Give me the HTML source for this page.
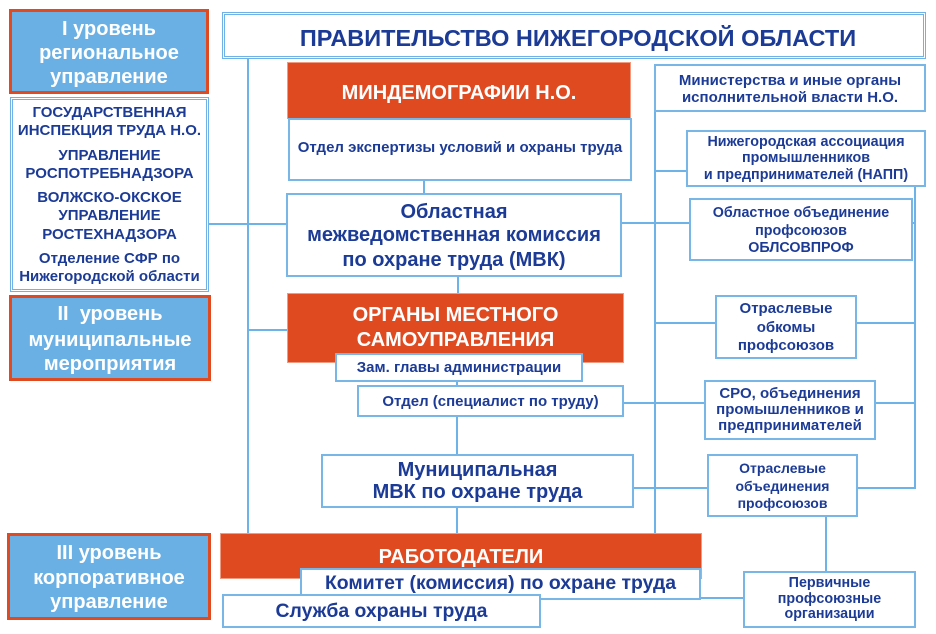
<!DOCTYPE html>
<html><head><meta charset="utf-8">
<style>
*{margin:0;padding:0;box-sizing:border-box}
html,body{width:936px;height:634px;background:#fff;overflow:hidden}
body{position:relative;font-family:"Liberation Sans",Arial,sans-serif;font-weight:bold}
.b{position:absolute;background:#fff;border:2px solid #78b6e8}
.d{border:3px double #6fb2e6}
.r{position:absolute;background:#e04a20;border:1px solid #f09a80}
.lv{position:absolute;background:#6ab0e4;border:3px solid #e04a20}
.t{position:absolute;text-align:center;white-space:nowrap;height:20px;line-height:20px;color:#1c3b96;font-size:15px}
.w{color:#fff}
.big{font-size:20px}
svg{position:absolute;left:0;top:0}
</style></head><body>
<svg width="936" height="634" viewBox="0 0 936 634">
<g stroke="#6db3e8" stroke-width="2" fill="none">
<line x1="248" y1="58" x2="248" y2="534"/>
<line x1="208" y1="224" x2="287" y2="224"/>
<line x1="248" y1="330" x2="288" y2="330"/>
<line x1="424" y1="180" x2="424" y2="194"/>
<line x1="458" y1="276" x2="458" y2="294"/>
<line x1="457" y1="380" x2="457" y2="386"/>
<line x1="457" y1="416" x2="457" y2="455"/>
<line x1="457" y1="507" x2="457" y2="534"/>
<line x1="621" y1="223" x2="690" y2="223"/>
<line x1="655" y1="111" x2="655" y2="534"/>
<line x1="655" y1="171" x2="687" y2="171"/>
<line x1="655" y1="323" x2="716" y2="323"/>
<line x1="856" y1="323" x2="915" y2="323"/>
<line x1="623" y1="403" x2="705" y2="403"/>
<line x1="875" y1="403" x2="915" y2="403"/>
<line x1="633" y1="488" x2="708" y2="488"/>
<line x1="857" y1="488" x2="915" y2="488"/>
<line x1="912" y1="223" x2="915" y2="223"/>
<line x1="915" y1="186" x2="915" y2="489"/>
<line x1="826" y1="516" x2="826" y2="572"/>
<line x1="700" y1="598" x2="744" y2="598"/>
</g></svg>

<!-- Level boxes -->
<div class="lv" style="left:9px;top:9px;width:200px;height:85px"></div>
<div class="t w big" style="left:9px;width:200px;top:19px">I уровень</div>
<div class="t w big" style="left:9px;width:200px;top:43px">региональное</div>
<div class="t w big" style="left:9px;width:200px;top:67px">управление</div>

<div class="b d" style="left:10px;top:97px;width:199px;height:195px"></div>
<div class="t" style="left:10px;width:199px;top:103px">ГОСУДАРСТВЕННАЯ</div>
<div class="t" style="left:10px;width:199px;top:121px">ИНСПЕКЦИЯ ТРУДА Н.О.</div>
<div class="t" style="left:10px;width:199px;top:146px">УПРАВЛЕНИЕ</div>
<div class="t" style="left:10px;width:199px;top:164px">РОСПОТРЕБНАДЗОРА</div>
<div class="t" style="left:10px;width:199px;top:188px">ВОЛЖСКО-ОКСКОЕ</div>
<div class="t" style="left:10px;width:199px;top:206px">УПРАВЛЕНИЕ</div>
<div class="t" style="left:10px;width:199px;top:225px">РОСТЕХНАДЗОРА</div>
<div class="t" style="left:10px;width:199px;top:249px">Отделение СФР по</div>
<div class="t" style="left:10px;width:199px;top:267px">Нижегородской области</div>

<div class="lv" style="left:9px;top:295px;width:202px;height:86px"></div>
<div class="t w big" style="left:9px;width:202px;top:304px">II&nbsp; уровень</div>
<div class="t w big" style="left:9px;width:202px;top:330px">муниципальные</div>
<div class="t w big" style="left:9px;width:202px;top:354px">мероприятия</div>

<div class="lv" style="left:7px;top:533px;width:204px;height:87px"></div>
<div class="t w big" style="left:7px;width:204px;top:543px">III уровень</div>
<div class="t w big" style="left:7px;width:204px;top:568px">корпоративное</div>
<div class="t w big" style="left:7px;width:204px;top:592px">управление</div>

<!-- Title -->
<div class="b d" style="left:222px;top:12px;width:704px;height:47px"></div>
<div class="t" style="left:222px;width:712px;top:26px;height:24px;line-height:24px;font-size:23.5px">ПРАВИТЕЛЬСТВО НИЖЕГОРОДСКОЙ ОБЛАСТИ</div>

<!-- Center column -->
<div class="r" style="left:287px;top:62px;width:344px;height:57px"></div>
<div class="t w big" style="left:287px;width:344px;top:83px">МИНДЕМОГРАФИИ Н.О.</div>

<div class="b" style="left:288px;top:118px;width:344px;height:63px"></div>
<div class="t" style="left:288px;width:344px;top:138px">Отдел экспертизы условий и охраны труда</div>

<div class="b" style="left:286px;top:193px;width:336px;height:84px"></div>
<div class="t big" style="left:286px;width:336px;top:202px">Областная</div>
<div class="t big" style="left:286px;width:336px;top:225px">межведомственная комиссия</div>
<div class="t big" style="left:286px;width:336px;top:250px">по охране труда (МВК)</div>

<div class="r" style="left:287px;top:293px;width:337px;height:70px"></div>
<div class="t w big" style="left:287px;width:337px;top:305px">ОРГАНЫ МЕСТНОГО</div>
<div class="t w big" style="left:287px;width:337px;top:330px">САМОУПРАВЛЕНИЯ</div>

<div class="b" style="left:335px;top:353px;width:248px;height:29px"></div>
<div class="t" style="left:335px;width:248px;top:358px">Зам. главы администрации</div>

<div class="b" style="left:357px;top:385px;width:267px;height:32px"></div>
<div class="t" style="left:357px;width:267px;top:392px">Отдел (специалист по труду)</div>

<div class="b" style="left:321px;top:454px;width:313px;height:54px"></div>
<div class="t big" style="left:321px;width:313px;top:460px">Муниципальная</div>
<div class="t big" style="left:321px;width:313px;top:482px">МВК по охране труда</div>

<!-- Right column -->
<div class="b" style="left:654px;top:64px;width:272px;height:48px"></div>
<div class="t" style="left:654px;width:272px;top:71px">Министерства и иные органы</div>
<div class="t" style="left:654px;width:272px;top:88px">исполнительной власти Н.О.</div>

<div class="b" style="left:686px;top:130px;width:240px;height:57px"></div>
<div class="t" style="left:686px;width:240px;top:132px;font-size:14.3px">Нижегородская ассоциация</div>
<div class="t" style="left:686px;width:240px;top:148px;font-size:14.3px">промышленников</div>
<div class="t" style="left:686px;width:240px;top:165px;font-size:14.3px">и предпринимателей (НАПП)</div>

<div class="b" style="left:689px;top:198px;width:224px;height:63px"></div>
<div class="t" style="left:689px;width:224px;top:203px;font-size:14.3px">Областное объединение</div>
<div class="t" style="left:689px;width:224px;top:221px;font-size:14.3px">профсоюзов</div>
<div class="t" style="left:689px;width:224px;top:238px;font-size:14.3px">ОБЛСОВПРОФ</div>

<div class="b" style="left:715px;top:295px;width:142px;height:64px"></div>
<div class="t" style="left:715px;width:142px;top:299px">Отраслевые</div>
<div class="t" style="left:715px;width:142px;top:318px">обкомы</div>
<div class="t" style="left:715px;width:142px;top:336px">профсоюзов</div>

<div class="b" style="left:704px;top:380px;width:172px;height:60px"></div>
<div class="t" style="left:704px;width:172px;top:384px">СРО, объединения</div>
<div class="t" style="left:704px;width:172px;top:400px">промышленников и</div>
<div class="t" style="left:704px;width:172px;top:416px">предпринимателей</div>

<div class="b" style="left:707px;top:454px;width:151px;height:63px"></div>
<div class="t" style="left:707px;width:151px;top:458px;font-size:14px">Отраслевые</div>
<div class="t" style="left:707px;width:151px;top:476px;font-size:14px">объединения</div>
<div class="t" style="left:707px;width:151px;top:493px;font-size:14px">профсоюзов</div>

<!-- Bottom -->
<div class="r" style="left:220px;top:533px;width:482px;height:46px"></div>
<div class="t w big" style="left:220px;width:482px;top:547px">РАБОТОДАТЕЛИ</div>

<div class="b" style="left:300px;top:568px;width:401px;height:32px"></div>
<div class="t" style="left:300px;width:401px;top:573px;font-size:19.4px">Комитет (комиссия) по охране труда</div>

<div class="b" style="left:222px;top:594px;width:319px;height:34px"></div>
<div class="t" style="left:222px;width:319px;top:601px;font-size:19.4px">Служба охраны труда</div>

<div class="b" style="left:743px;top:571px;width:173px;height:57px"></div>
<div class="t" style="left:743px;width:173px;top:573px;font-size:14.3px">Первичные</div>
<div class="t" style="left:743px;width:173px;top:589px;font-size:14.3px">профсоюзные</div>
<div class="t" style="left:743px;width:173px;top:604px;font-size:14.3px">организации</div>
</body></html>
